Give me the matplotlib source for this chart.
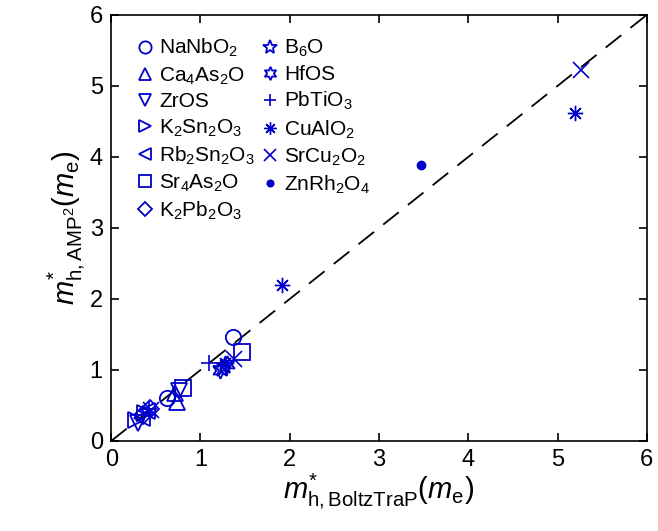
import matplotlib.pyplot as plt

plt.rcParams['font.family'] = ['Liberation Sans', 'DejaVu Sans']
plt.rcParams['mathtext.fontset'] = 'custom'
plt.rcParams['mathtext.rm'] = 'Liberation Sans'
plt.rcParams['mathtext.it'] = 'Liberation Sans:italic'

BLUE = (0.0, 0.0, 0.8)

labels = ["NaNbO$_2$", "Ca$_4$As$_2$O", "ZrOS", "K$_2$Sn$_2$O$_3$", "Rb$_2$Sn$_2$O$_3$",
          "Sr$_4$As$_2$O", "K$_2$Pb$_2$O$_3$", "B$_6$O", "HfOS", "PbTiO$_3$",
          "CuAlO$_2$", "SrCu$_2$O$_2$", "ZnRh$_2$O$_4$"]
markers = ["o", "^", "v", ">", "<", "s", "D", "*", "hexstar", "+", "asterisk", "x", "."]

# (BoltzTraP, AMP2) effective masses
x_vals = [[0.63, 1.36], [0.74, 0.72], [0.76, 0.30], [0.28, 0.38], [0.40, 0.34],
          [0.80, 1.46], [0.36, 0.43], [1.24, 1.28], [1.22, 1.30], [1.10, 0.42],
          [1.91, 5.19, 1.27], [5.26, 1.38, 0.45], [3.47]]
y_vals = [[0.60, 1.46], [0.55, 0.68], [0.70, 0.25], [0.30, 0.40], [0.42, 0.32],
          [0.75, 1.25], [0.36, 0.45], [1.02, 1.05], [1.00, 1.08], [1.10, 0.45],
          [2.20, 4.62, 1.10], [5.22, 1.15, 0.44], [3.88]]

fig = plt.figure(figsize=(6.58, 5.31), dpi=100)
ax = fig.add_axes([0.169, 0.1695, 0.814, 0.8025])

ax.plot([0, 6], [0, 6], color='black', linestyle=(0, (11, 6.5)), linewidth=1.3, zorder=1)

for lab, m, xs, ys in zip(labels, markers, x_vals, y_vals):
    if m == "asterisk":
        ax.plot(xs, ys, linestyle='none', marker=(8, 2, 0), markersize=11,
                markeredgecolor=BLUE, markeredgewidth=1.0, label=lab)
    elif m == ".":
        ax.plot(xs, ys, linestyle='none', marker='o', markersize=6,
                color=BLUE, label=lab)
    elif m in ("+", "x"):
        ax.plot(xs, ys, linestyle='none', marker=m, markersize=11,
                markeredgecolor=BLUE, markeredgewidth=1.2, label=lab)
    else:
        size = 11
        shape = m
        if m == "*":
            size = 13
        if m == "hexstar":
            shape = (6, 1, 0)
            size = 12
        if m == "D":
            size = 9
        ax.plot(xs, ys, linestyle='none', marker=shape, markersize=size,
                markerfacecolor='none', markeredgecolor=BLUE, markeredgewidth=1.3, label=lab)

ax.set_xlim(0, 6)
ax.set_ylim(0, 6)
ax.set_xticks(range(7))
ax.set_yticks(range(7))
ax.tick_params(direction='in', top=True, right=True, labelsize=17, length=6, width=1.2, pad=6)
for s in ax.spines.values():
    s.set_linewidth(1.2)

ax.set_xlabel(r"$m^{*}_{\mathrm{h,BoltzTraP}}(m_{\mathrm{e}})$", fontsize=21, labelpad=0)
ax.set_ylabel(r"$m^{*}_{\mathrm{h,AMP^2}}(m_{\mathrm{e}})$", fontsize=21, labelpad=2)

ax.legend(ncol=2, loc='upper left', frameon=False, fontsize=15, handlelength=0.8,
          handletextpad=0.3, columnspacing=0.3, labelspacing=0.28, markerscale=0.8,
          borderaxespad=0.3, bbox_to_anchor=(0.02, 0.982))

fig.savefig("out.png", dpi=100)
